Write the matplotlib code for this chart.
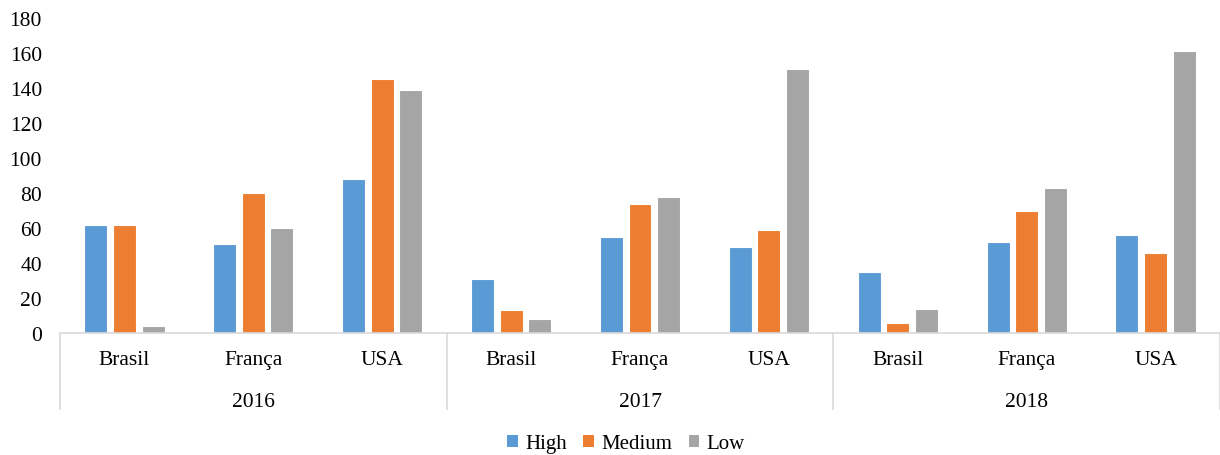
import matplotlib
matplotlib.use("Agg")
import matplotlib.pyplot as plt
from matplotlib.patches import Patch
from matplotlib.transforms import blended_transform_factory
import numpy as np

plt.rcParams['font.family'] = ['Liberation Serif', 'DejaVu Serif']

years = ["2016", "2017", "2018"]
countries = ["Brasil", "França", "USA"]
series = ["High", "Medium", "Low"]
colors = ["#5B9BD5", "#ED7D31", "#A5A5A5"]

high = [62, 51, 88, 31, 55, 49, 35, 52, 56]
medium = [62, 80, 145, 13, 74, 59, 6, 70, 46]
low = [4, 60, 139, 8, 78, 151, 14, 83, 161]
values = [high, medium, low]

fig = plt.figure(figsize=(12.2, 4.56), dpi=100)
ax = fig.add_axes([60 / 1220, 1 - 334 / 456, 1160 / 1220, 315 / 456])

n_cat = len(years) * len(countries)
x = np.arange(n_cat)
step = 0.222
width = 0.178
for i, (vals, col) in enumerate(zip(values, colors)):
    ax.bar(x + (i - 1) * step, vals, width=width, color=col,
           edgecolor="white", linewidth=0.8, zorder=2)

ax.set_xlim(-0.5, n_cat - 0.5)
ax.set_ylim(0, 180)
ax.set_yticks(range(0, 181, 20))
ax.tick_params(axis="y", length=0, pad=13, labelsize=15.5)
ax.tick_params(axis="x", length=0, labelbottom=False)

for side in ["top", "right", "left"]:
    ax.spines[side].set_visible(False)
ax.spines["bottom"].set_color("#D9D9D9")
ax.spines["bottom"].set_linewidth(1.2)

trans = blended_transform_factory(ax.transData, ax.transAxes)

# country labels under each cluster
for k in range(n_cat):
    ax.text(k, -0.083, countries[k % len(countries)], transform=trans,
            ha="center", va="center", fontsize=15.5)

# year labels and group separators
for g, yr in enumerate(years):
    center = g * len(countries) + (len(countries) - 1) / 2
    ax.text(center, -0.216, yr, transform=trans,
            ha="center", va="center", fontsize=15.5)
for b in range(len(years) + 1):
    xb = b * len(countries) - 0.5
    ax.plot([xb, xb], [0, -0.241], transform=trans, color="#D9D9D9",
            linewidth=1.2, clip_on=False)

handles = [Patch(facecolor=c, edgecolor="none") for c in colors]
fig.legend(handles, series, loc="center", bbox_to_anchor=(626 / 1220, 1 - 445 / 456),
           ncol=3, frameon=False, fontsize=15, handlelength=0.5,
           handleheight=0.5, handletextpad=0.35, columnspacing=0.8)

fig.savefig("out.png", dpi=100, facecolor="white")
